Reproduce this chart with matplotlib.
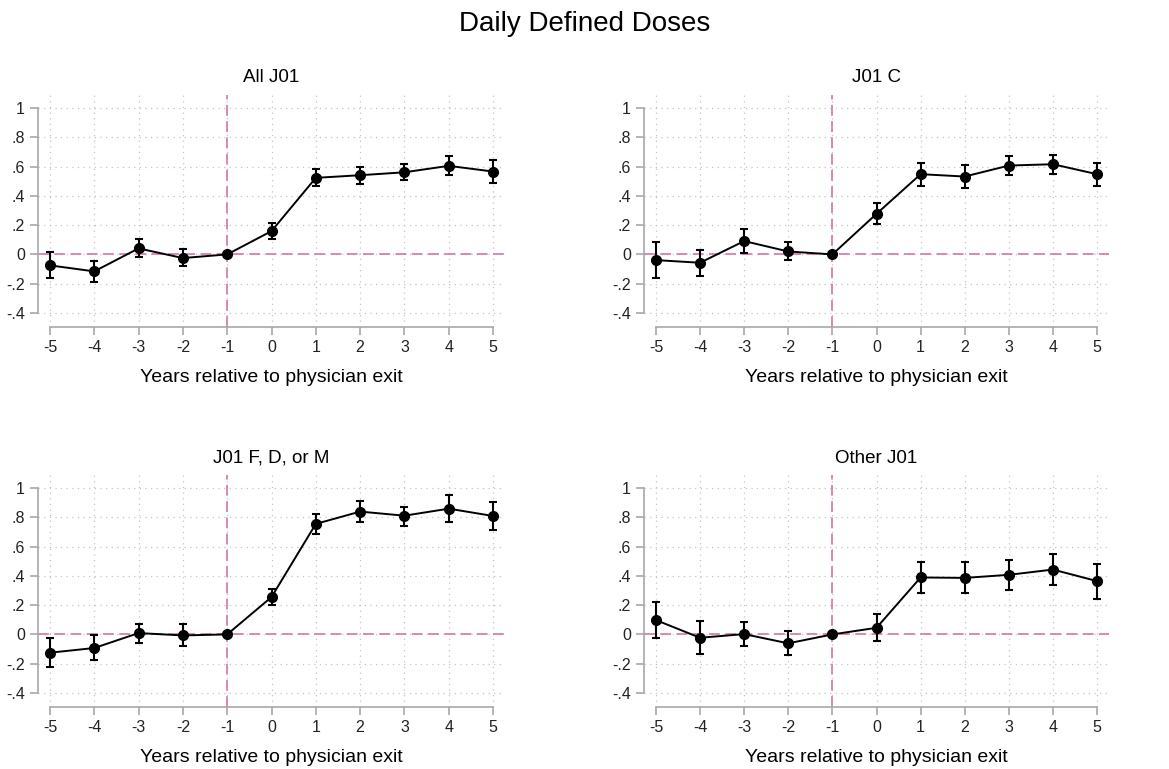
import numpy as np
import matplotlib
matplotlib.use("Agg")
import matplotlib.pyplot as plt

plt.rcParams['font.family'] = ['Liberation Sans', 'DejaVu Sans']

years = [-5, -4, -3, -2, -1, 0, 1, 2, 3, 4, 5]
titles = ["All J01", "J01 C", "J01 F, D, or M", "Other J01"]

all_est = [-0.075, -0.116, 0.041, -0.025, 0.0, 0.159, 0.523, 0.541, 0.561, 0.605, 0.566]
all_hi = [0.016, -0.048, 0.102, 0.036, 0.0, 0.214, 0.582, 0.600, 0.620, 0.670, 0.643]
all_lo = [-0.160, -0.186, -0.020, -0.082, 0.0, 0.107, 0.464, 0.480, 0.505, 0.541, 0.491]

c_est = [-0.039, -0.057, 0.091, 0.020, 0.0, 0.277, 0.548, 0.532, 0.607, 0.616, 0.548]
c_hi = [0.082, 0.032, 0.175, 0.082, 0.0, 0.348, 0.627, 0.609, 0.670, 0.677, 0.627]
c_lo = [-0.161, -0.150, 0.007, -0.041, 0.0, 0.205, 0.470, 0.455, 0.541, 0.552, 0.470]

fdm_est = [-0.125, -0.093, 0.009, -0.007, 0.0, 0.255, 0.755, 0.839, 0.811, 0.859, 0.809]
fdm_hi = [-0.027, -0.005, 0.073, 0.070, 0.0, 0.307, 0.825, 0.911, 0.873, 0.950, 0.905]
fdm_lo = [-0.223, -0.177, -0.061, -0.080, 0.0, 0.198, 0.686, 0.766, 0.743, 0.768, 0.716]

oth_est = [0.098, -0.023, 0.002, -0.061, 0.0, 0.045, 0.389, 0.386, 0.407, 0.443, 0.364]
oth_hi = [0.220, 0.091, 0.084, 0.020, 0.0, 0.139, 0.493, 0.493, 0.511, 0.552, 0.484]
oth_lo = [-0.027, -0.136, -0.082, -0.143, 0.0, -0.043, 0.282, 0.280, 0.302, 0.336, 0.241]

yticks = [-0.4, -0.2, 0, 0.2, 0.4, 0.6, 0.8, 1]
ytick_labels = ["-.4", "-.2", "0", ".2", ".4", ".6", ".8", "1"]

series = [(all_est, all_lo, all_hi), (c_est, c_lo, c_hi),
          (fdm_est, fdm_lo, fdm_hi), (oth_est, oth_lo, oth_hi)]

W, H = 1169, 769
fig = plt.figure(figsize=(W / 100, H / 100), dpi=100)
fig.text(0.5, 1 - 24 / H, "Daily Defined Doses", ha='center', va='center', fontsize=20)

# pixel boxes: left, right, top, bottom
boxes = [(38, 505, 95, 327), (644, 1109, 95, 327),
         (38, 505, 475, 707), (644, 1109, 475, 707)]

pink = '#d580b0'
axis_gray = '#a8a8a8'

for (l, r, t, b), title, (est, lo, hi) in zip(boxes, titles, series):
    ax = fig.add_axes([l / W, 1 - b / H, (r - l) / W, (b - t) / H])
    ax.set_xlim(-5.27, 5.27)
    ax.set_ylim(-0.496, 1.089)

    for yv in yticks:
        ax.axhline(yv, color='#c4c4c4', lw=0.9, ls=(0, (1, 3.5)), zorder=0)
    for xv in years:
        ax.axvline(xv, color='#c4c4c4', lw=0.9, ls=(0, (1, 3.5)), zorder=0)

    ax.axhline(0, color=pink, lw=1.3, ls=(0, (6, 3)), zorder=1)
    ax.axvline(-1, color=pink, lw=1.3, ls=(0, (6, 3)), zorder=1)

    est = np.array(est)
    err = [est - np.array(lo), np.array(hi) - est]
    ax.errorbar(years, est, yerr=err, fmt='none', ecolor='black', elinewidth=1.5,
                capsize=2.6, capthick=1.5, zorder=3)
    ax.plot(years, est, color='black', lw=1.4, marker='o', markersize=7, zorder=4)

    ax.set_title(title, fontsize=13.5, pad=9)
    ax.set_xticks(years)
    ax.set_xticklabels([str(v) for v in years])
    ax.set_yticks(yticks)
    ax.set_yticklabels(ytick_labels)
    ax.set_xlabel("Years relative to physician exit", fontsize=14, labelpad=10)

    for s in ['top', 'right']:
        ax.spines[s].set_visible(False)
    ax.spines['left'].set_bounds(-0.4, 1)
    ax.spines['bottom'].set_bounds(-5, 5)
    for s in ['left', 'bottom']:
        ax.spines[s].set_color(axis_gray)
        ax.spines[s].set_linewidth(1.2)
    ax.tick_params(axis='both', colors=axis_gray, labelcolor='#222222',
                   labelsize=11.5, width=1.2, length=5.5, pad=4)

fig.savefig("out.png", dpi=100)
